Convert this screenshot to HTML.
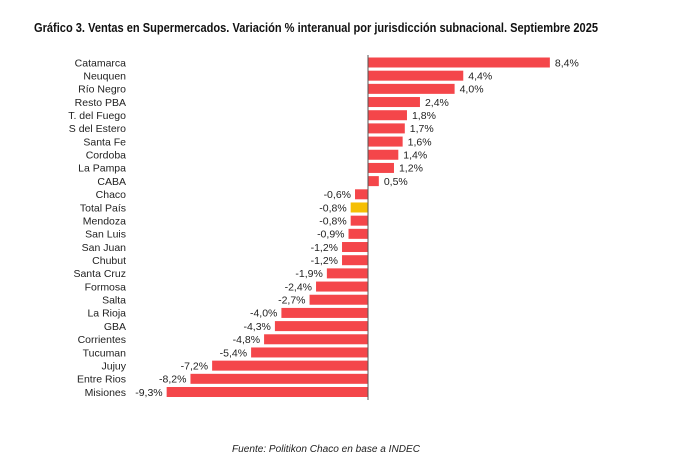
<!DOCTYPE html>
<html><head><meta charset="utf-8"><style>
html,body{margin:0;padding:0;background:#fff;}
svg{display:block;font-family:"Liberation Sans",sans-serif;}
</style></head><body>
<svg width="683" height="475" viewBox="0 0 683 475" xmlns="http://www.w3.org/2000/svg">
<text x="34" y="32" font-size="12.5" font-weight="bold" fill="#111" textLength="564" lengthAdjust="spacingAndGlyphs">Gráfico 3. Ventas en Supermercados. Variación % interanual por jurisdicción subnacional. Septiembre 2025</text>
<g id="bars" font-size="10.5" fill="#222"></g>
<line x1="368" y1="55" x2="368" y2="400" stroke="#555" stroke-width="1"/>
<text x="232" y="452" font-size="10" font-style="italic" fill="#222" textLength="188" lengthAdjust="spacingAndGlyphs">Fuente: Politikon Chaco en base a INDEC</text>
</svg>
<script>
var d=[["Catamarca",8.4],["Neuquen",4.4],["Río Negro",4.0],["Resto PBA",2.4],["T. del Fuego",1.8],["S del Estero",1.7],["Santa Fe",1.6],["Cordoba",1.4],["La Pampa",1.2],["CABA",0.5],["Chaco",-0.6],["Total País",-0.8],["Mendoza",-0.8],["San Luis",-0.9],["San Juan",-1.2],["Chubut",-1.2],["Santa Cruz",-1.9],["Formosa",-2.4],["Salta",-2.7],["La Rioja",-4.0],["GBA",-4.3],["Corrientes",-4.8],["Tucuman",-5.4],["Jujuy",-7.2],["Entre Rios",-8.2],["Misiones",-9.3]];
var g=document.getElementById("bars"),s="",z=368,k=21.65;
d.forEach(function(r,i){
 var cy=62.5+i*13.18,w=Math.abs(r[1])*k,x=r[1]>=0?z:z-w;
 var col=r[0]=="Total País"?"#f5bf03":"#f4464a";
 s+='<rect x="'+x+'" y="'+(cy-5)+'" width="'+w+'" height="10" fill="'+col+'"/>';
 s+='<text x="126" y="'+(cy+3.8)+'" text-anchor="end">'+r[0]+'</text>';
 var v=r[1].toFixed(1).replace(".",",")+"%";
 if(r[1]>=0) s+='<text x="'+(z+w+5)+'" y="'+(cy+3.8)+'">'+v+'</text>';
 else s+='<text x="'+(x-4)+'" y="'+(cy+3.8)+'" text-anchor="end">'+v+'</text>';
});
g.innerHTML=s;
</script>
</body></html>
